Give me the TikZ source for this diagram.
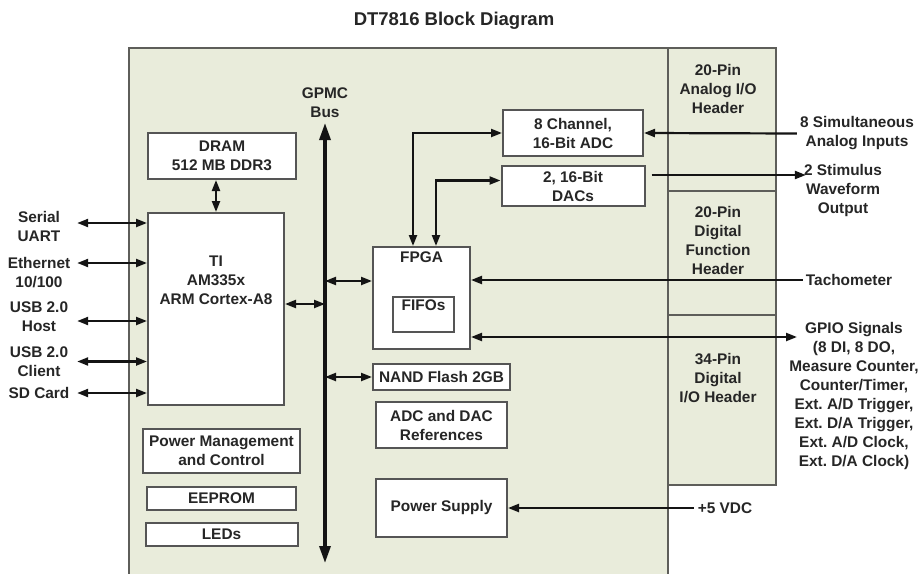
\documentclass[tikz,border=0pt]{standalone}
\usepackage{fontspec}
\setmainfont{Liberation Sans}
\usepackage{tikz}
\usepackage{xcolor}
\usetikzlibrary{positioning, arrows.meta, calc}
\definecolor{BoardFill}{HTML}{E9ECDB}
\definecolor{BoardEdge}{HTML}{5E5E5A}
\definecolor{BoxGray}{HTML}{555555}
\definecolor{TextGray}{HTML}{262626}
\definecolor{LineBlack}{HTML}{141414}
\newcommand\lblfont{\fontsize{15.4}{19}\selectfont\bfseries}
\newcommand\ttlfont{\fontsize{18.5}{22}\selectfont\bfseries}
\frenchspacing

\begin{document}
\begin{tikzpicture}[
    x=1pt, y=-1pt,
    blk/.style={draw=BoxGray, line width=2pt, fill=white, inner sep=0pt, align=center, font=\lblfont, text=TextGray},
    txt/.style={align=center, inner sep=1pt, font=\lblfont, text=TextGray},
    hdr/.style={draw=BoardEdge, line width=1.8pt, fill=BoardFill},
    arr/.style={-{Triangle[length=11pt, width=8pt]}, line width=2.2pt, color=LineBlack},
    dbl/.style={{Triangle[length=11pt, width=8pt]}-{Triangle[length=11pt, width=8pt]}, line width=2.2pt, color=LineBlack},
    bus/.style={{Triangle[length=17pt, width=11pt]}-{Triangle[length=17pt, width=11pt]}, line width=3.2pt, color=LineBlack}
]
\useasboundingbox (0,0) rectangle (921,573);
\fill[white] (0,0) rectangle (921,573);

% board and headers
\draw[hdr] (129,48) rectangle (668,590);
\draw[hdr] (668,48) rectangle (776,191);
\draw[hdr] (668,191) rectangle (776,315);
\draw[hdr] (668,315) rectangle (776,485);

\node[font=\ttlfont, text=TextGray] (title) at (454,21) {DT7816 Block Diagram};

\node[txt] (anhdr) at (718,89) {20-Pin\\Analog I/O\\Header};
\node[txt] (dighdr) at (718,240.5) {20-Pin\\Digital\\Function\\Header};
\node[txt] (iohdr) at (718,378) {34-Pin\\Digital\\I/O Header};

% processor side
\node[blk, minimum width=148pt, minimum height=46pt] (dram) at (222,156) {DRAM\\512 MB DDR3};
\node[blk, minimum width=136pt, minimum height=192pt] (cpu) at (216,309) {};
\node[txt] (cputxt) at (216,280) {TI\\AM335x\\ARM Cortex-A8};
\node[blk, minimum width=157pt, minimum height=44pt] (pwrmgmt) at (221.5,451) {Power Management\\and Control};
\node[blk, minimum width=149pt, minimum height=23pt, below=12pt of pwrmgmt] (eeprom) {EEPROM};
\node[blk, minimum width=152pt, minimum height=23pt, below=11pt of eeprom] (leds) {LEDs};

% bus
\coordinate (bustop) at (325,123);
\coordinate (busbot) at (325,563);
\draw[bus] (bustop) -- (busbot);
\node[txt, above=4pt of bustop] (gpmc) {GPMC\\Bus};

% fpga side
\node[blk, minimum width=97pt, minimum height=102pt] (fpga) at (421.5,298) {};
\node[txt] (fpgatxt) at (421.5,257) {FPGA};
\node[blk, minimum width=61pt, minimum height=35pt, text depth=18pt] (fifo) at (423.5,314.5) {FIFOs};
\node[blk, minimum width=137pt, minimum height=26pt] (nand) at (441.5,377) {NAND Flash 2GB};
\node[blk, minimum width=131pt, minimum height=46pt, below=10pt of nand] (refs) {ADC and DAC\\References};
\node[blk, minimum width=131pt, minimum height=58pt] (psu) at (441.5,508) {Power Supply};
\node[blk, minimum width=140pt, minimum height=46pt] (adc) at (573,133) {8 Channel,\\16-Bit ADC};
\node[blk, minimum width=143pt, minimum height=40pt, below=8pt of adc] (dac) {2, 16-Bit\\DACs};

% outside signals, left
\node[txt, minimum width=76pt, inner sep=0pt] (uart) at (39,226) {Serial\\UART};
\node[txt, minimum width=76pt, inner sep=0pt] (eth) at (39,272.5) {Ethernet\\10/100};
\node[txt, minimum width=76pt, inner sep=0pt] (usbh) at (39,317) {USB 2.0\\Host};
\node[txt, minimum width=76pt, inner sep=0pt] (usbc) at (39,361.5) {USB 2.0\\Client};
\node[txt, minimum width=76pt, inner sep=0pt] (sdcard) at (39,393) {SD Card};

% outside signals, right
\node[txt, inner sep=3pt] (aninp) at (857,133.5) {8 Simultaneous\\Analog Inputs};
\node[txt, inner sep=4pt] (stim) at (843,191) {2 Stimulus\\Waveform\\Output};
\node[txt, inner sep=3pt] (tacho) at (849,280) {Tachometer};
\node[txt] (gpio) at (854,396.5) {GPIO Signals\\(8 DI, 8 DO,\\Measure Counter,\\Counter/Timer,\\Ext. A/D Trigger,\\Ext. D/A Trigger,\\Ext. A/D Clock,\\Ext. D/A Clock)};
\coordinate (gpioend) at (797,337);
\node[txt, inner sep=4pt] (vdc) at (725,508) {+5 VDC};

% connectors
\draw[dbl] (cpu.north) -- (cpu.north |- dram.south);
\draw[dbl] ([yshift=3pt]uart.east) -- ([yshift=3pt]uart.east -| cpu.west);
\draw[dbl] ([yshift=9.5pt]eth.east) -- ([yshift=9.5pt]eth.east -| cpu.west);
\draw[dbl] ([yshift=-4pt]usbh.east) -- ([yshift=-4pt]usbh.east -| cpu.west);
\draw[dbl] (usbc.east) -- (usbc.east -| cpu.west);
\draw[dbl] (sdcard.east) -- (sdcard.east -| cpu.west);
\draw[dbl] ([yshift=5pt]cpu.east) -- ([yshift=5pt]cpu.east -| bustop);
\draw[dbl] ([yshift=17pt]fpga.west -| bustop) -- ([yshift=17pt]fpga.west);
\draw[dbl] (nand.west -| bustop) -- (nand.west);
\draw[dbl] ([xshift=-8.5pt]fpga.north) |- (adc.west);
\draw[dbl] ([xshift=14.5pt]fpga.north) |- ([yshift=5.5pt]dac.west);
\draw[arr] (aninp.west) -- (adc.east);
\draw[arr] ([xshift=6pt, yshift=11pt]dac.east) -- ([xshift=6pt, yshift=11pt]dac.east -| stim.west);
\draw[arr] (tacho.west) -- (tacho.west -| fpga.east);
\draw[dbl] (gpioend -| fpga.east) -- (gpioend);
\draw[arr] (vdc.west) -- (vdc.west -| psu.east);

\end{tikzpicture}
\end{document}
